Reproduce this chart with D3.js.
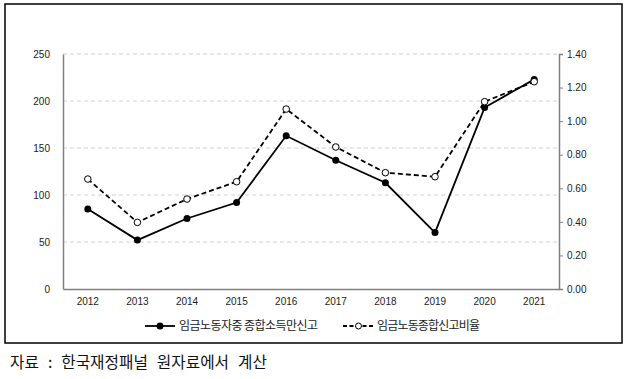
<!DOCTYPE html>
<html><head><meta charset="utf-8">
<script src="https://cdn.jsdelivr.net/npm/d3@7"></script>
<style>body{margin:0;background:#fff}svg{display:block}</style>
</head><body>
<svg id="c" width="628" height="379"></svg>
<script>
const years = ["2012","2013","2014","2015","2016","2017","2018","2019","2020","2021"];
const filers = [85, 52, 75, 92, 163, 137, 113, 60, 193, 223];
const ratio = [0.655, 0.397, 0.536, 0.639, 1.072, 0.846, 0.693, 0.669, 1.116, 1.235];
const leftTicks = [0, 50, 100, 150, 200, 250];
const rightTicks = [0, 0.2, 0.4, 0.6, 0.8, 1.0, 1.2, 1.4];
const seriesNames = ["임금노동자중 종합소득만신고", "임금노동종합신고비율"];
const sourceText = "자료 : 한국재정패널 원자료에서 계산";

const svg = d3.select("#c");
const L = 63, R = 559, T = 54, B = 289;
const x = d3.scaleBand().domain(years).range([L, R]);
const yL = d3.scaleLinear().domain([0, 250]).range([B, T]);
const yR = d3.scaleLinear().domain([0, 1.4]).range([B, T]);
const font = "'Liberation Sans', Arial, sans-serif";
const kfont = "'Noto Sans CJK KR', sans-serif";

// frame
svg.append("rect").attr("x",5).attr("y",4).attr("width",617).attr("height",339)
  .attr("fill","none").attr("stroke","#000").attr("stroke-width",1.5);

// gridlines
svg.append("g").selectAll("line").data(leftTicks.filter(d=>d>0)).join("line")
  .attr("x1",L).attr("x2",R).attr("y1",d=>yL(d)).attr("y2",d=>yL(d))
  .attr("stroke","#d0d0d0").attr("stroke-dasharray","4,3").attr("stroke-width",1);

// left axis
const gl = svg.append("g").attr("transform",`translate(${L},0)`)
  .call(d3.axisLeft(yL).tickValues(leftTicks).tickSize(0).tickPadding(13).tickFormat(d3.format("d")));
gl.select(".domain").attr("stroke","#808080").attr("stroke-width",1.5);
gl.selectAll("text").attr("font-family",font).attr("font-size",10).attr("fill","#222");

// right axis
const gr = svg.append("g").attr("transform",`translate(${R},0)`)
  .call(d3.axisRight(yR).tickValues(rightTicks).tickSize(4).tickSizeOuter(4).tickPadding(4).tickFormat(d3.format(".2f")));
gr.select(".domain").attr("stroke","#808080").attr("stroke-width",1.5);
gr.selectAll(".tick line").attr("stroke","#808080");
gr.selectAll("text").attr("font-family",font).attr("font-size",10).attr("fill","#222");

// bottom axis
const gb = svg.append("g").attr("transform",`translate(0,${B})`)
  .call(d3.axisBottom(x).tickSize(0).tickPadding(9));
gb.select(".domain").attr("stroke","#808080").attr("stroke-width",1.5);
gb.selectAll("text").attr("font-family",font).attr("font-size",10).attr("fill","#222");

const cx = d => x(d) + x.bandwidth()/2;

// dashed series
svg.append("path").datum(ratio)
  .attr("d", d3.line().x((d,i)=>cx(years[i])).y(d=>yR(d)))
  .attr("fill","none").attr("stroke","#000").attr("stroke-width",1.8).attr("stroke-dasharray","5,3");
// solid series
svg.append("path").datum(filers)
  .attr("d", d3.line().x((d,i)=>cx(years[i])).y(d=>yL(d)))
  .attr("fill","none").attr("stroke","#000").attr("stroke-width",1.8);

svg.append("g").selectAll("circle").data(filers).join("circle")
  .attr("cx",(d,i)=>cx(years[i])).attr("cy",d=>yL(d)).attr("r",3.5).attr("fill","#000");
svg.append("g").selectAll("circle").data(ratio).join("circle")
  .attr("cx",(d,i)=>cx(years[i])).attr("cy",d=>yR(d)).attr("r",3.3)
  .attr("fill","#fff").attr("stroke","#000").attr("stroke-width",1);

// legend
const ly = 326;
const lg = svg.append("g");
lg.append("line").attr("x1",145).attr("x2",175).attr("y1",ly).attr("y2",ly).attr("stroke","#000").attr("stroke-width",1.8);
lg.append("circle").attr("cx",160).attr("cy",ly).attr("r",3.5).attr("fill","#000");
lg.append("text").attr("x",179).attr("y",ly).attr("dy","0.35em").text(seriesNames[0])
  .attr("font-family",kfont).attr("font-size",12).attr("fill","#222")
  .attr("textLength",139).attr("lengthAdjust","spacing");
lg.append("line").attr("x1",343).attr("x2",374).attr("y1",ly).attr("y2",ly).attr("stroke","#000").attr("stroke-width",1.8).attr("stroke-dasharray","4,2.5");
lg.append("circle").attr("cx",358.5).attr("cy",ly).attr("r",3).attr("fill","#fff").attr("stroke","#000").attr("stroke-width",1);
lg.append("text").attr("x",377).attr("y",ly).attr("dy","0.35em").text(seriesNames[1])
  .attr("font-family",kfont).attr("font-size",12).attr("fill","#222")
  .attr("textLength",103).attr("lengthAdjust","spacing");

// source
svg.append("text").attr("x",10).attr("y",363).attr("dy","0.35em").text(sourceText)
  .attr("font-family",kfont).attr("font-size",15.7).attr("fill","#111")
  .attr("word-spacing",5.5);
</script>
</body></html>
